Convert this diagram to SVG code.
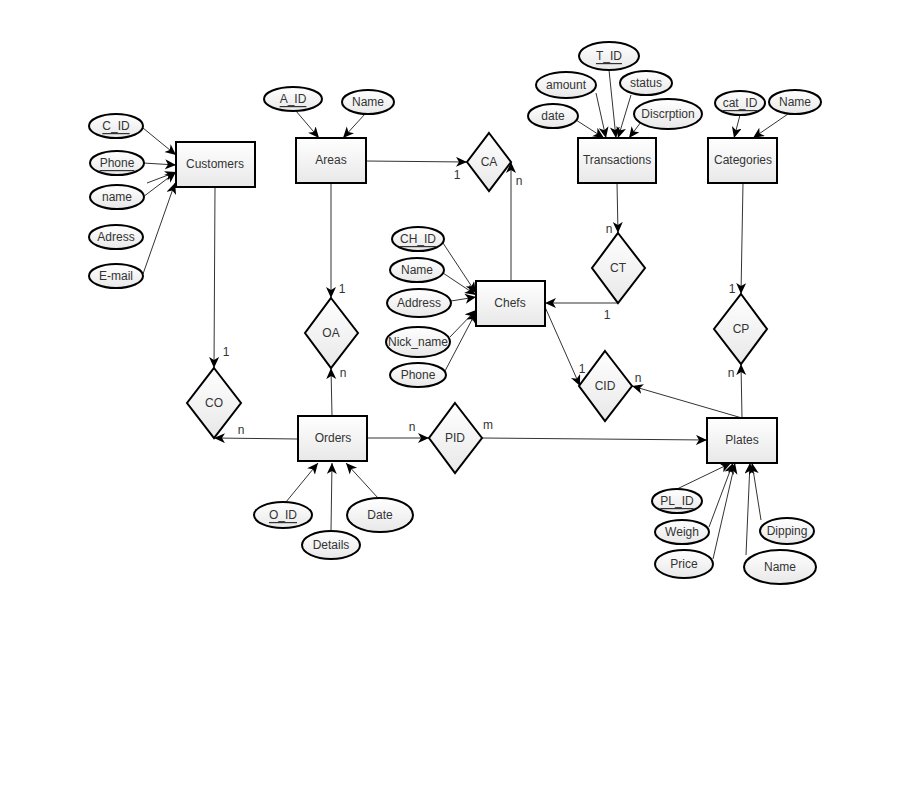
<svg xmlns="http://www.w3.org/2000/svg" width="900" height="800" viewBox="0 0 900 800">
<defs>
<linearGradient id="g" x1="0" y1="0" x2="0" y2="1">
<stop offset="0" stop-color="#ffffff"/>
<stop offset="1" stop-color="#e8e8e8"/>
</linearGradient>
<marker id="a" markerUnits="userSpaceOnUse" markerWidth="14" markerHeight="12" refX="11" refY="5" orient="auto">
<path d="M0,0 L11,5 L0,10 L3,5 Z" fill="#000"/>
</marker>
</defs>
<style>
.e{fill:url(#g);stroke:#000;stroke-width:2}
.r{fill:url(#g);stroke:#000;stroke-width:2}
.d{fill:url(#g);stroke:#000;stroke-width:2}
text{font-family:"Liberation Sans",Arial,sans-serif;font-size:12px;fill:#333;text-anchor:middle;dominant-baseline:central}
.u{text-decoration:underline}
#conn line,#conn polyline{stroke:#333;stroke-width:1;fill:none}
.ar{marker-end:url(#a)}
</style>
<rect width="900" height="800" fill="#fff"/>

<g id="conn">
<line class="ar" x1="143" y1="128" x2="176" y2="155"/>
<line class="ar" x1="143" y1="163" x2="176" y2="165"/>
<line class="ar" x1="143" y1="197" x2="176" y2="172"/>
<line class="ar" x1="147" y1="183" x2="176" y2="172"/>
<line class="ar" x1="143" y1="274" x2="175" y2="183"/>
<line class="ar" x1="215" y1="187" x2="214" y2="368"/>
<line class="ar" x1="298" y1="439" x2="214" y2="438"/>
<line class="ar" x1="331" y1="183" x2="331" y2="298"/>
<line class="ar" x1="332" y1="416" x2="331" y2="368"/>
<line class="ar" x1="296" y1="111" x2="319" y2="138"/>
<line class="ar" x1="365" y1="114" x2="343" y2="138"/>
<line class="ar" x1="366" y1="161" x2="467" y2="162"/>
<polyline class="ar" points="511,281 511,162"/>
<line class="ar" x1="576" y1="120" x2="604" y2="138"/>
<line class="ar" x1="596" y1="93" x2="606" y2="138"/>
<line class="ar" x1="609" y1="70" x2="616" y2="138"/>
<line class="ar" x1="631" y1="95" x2="618" y2="138"/>
<line class="ar" x1="641" y1="122" x2="629" y2="138"/>
<line class="ar" x1="740" y1="115" x2="734" y2="138"/>
<line class="ar" x1="788" y1="114" x2="753" y2="138"/>
<line class="ar" x1="617" y1="183" x2="618" y2="233"/>
<polyline class="ar" points="618,303 545,303"/>
<line class="ar" x1="743" y1="183" x2="741" y2="294"/>
<line class="ar" x1="742" y1="418" x2="741" y2="364"/>
<line class="ar" x1="742" y1="418" x2="632" y2="386"/>
<line class="ar" x1="545" y1="307" x2="580" y2="386"/>
<line class="ar" x1="443" y1="243" x2="476" y2="293"/>
<line class="ar" x1="443" y1="273" x2="476" y2="295"/>
<line class="ar" x1="451" y1="301" x2="476" y2="297"/>
<line class="ar" x1="450" y1="337" x2="476" y2="310"/>
<line class="ar" x1="445" y1="371" x2="476" y2="312"/>
<line class="ar" x1="367" y1="438" x2="429" y2="438"/>
<line class="ar" x1="482" y1="438" x2="707" y2="440"/>
<line class="ar" x1="286" y1="502" x2="318" y2="463"/>
<line class="ar" x1="331" y1="531" x2="332" y2="463"/>
<line class="ar" x1="378" y1="498" x2="346" y2="463"/>
<line class="ar" x1="677" y1="489" x2="731" y2="463"/>
<line class="ar" x1="709" y1="527" x2="733" y2="463"/>
<line class="ar" x1="713" y1="559" x2="735" y2="463"/>
<line class="ar" x1="746" y1="555" x2="750" y2="463"/>
<line class="ar" x1="761" y1="520" x2="752" y2="463"/>
</g>

<g id="labels">
<text x="226" y="352">1</text>
<text x="241" y="430">n</text>
<text x="342" y="289">1</text>
<text x="343" y="373">n</text>
<text x="457" y="175">1</text>
<text x="519" y="181">n</text>
<text x="609" y="229">n</text>
<text x="607" y="315">1</text>
<text x="732" y="289">1</text>
<text x="731" y="373">n</text>
<text x="582" y="369">1</text>
<text x="638" y="378">n</text>
<text x="412" y="427">n</text>
<text x="488" y="425">m</text>
</g>

<g id="Customers"><rect class="r" x="176" y="142" width="79" height="45"/><text x="215" y="164">Customers</text></g>
<g id="Areas"><rect class="r" x="296" y="138" width="70" height="45"/><text x="331" y="160">Areas</text></g>
<g id="Transactions"><rect class="r" x="578" y="138" width="78" height="45"/><text x="617" y="160">Transactions</text></g>
<g id="Categories"><rect class="r" x="708" y="138" width="69" height="45"/><text x="743" y="160">Categories</text></g>
<g id="Chefs"><rect class="r" x="476" y="281" width="69" height="45"/><text x="510" y="303">Chefs</text></g>
<g id="Orders"><rect class="r" x="298" y="416" width="69" height="45"/><text x="333" y="438">Orders</text></g>
<g id="Plates"><rect class="r" x="707" y="418" width="70" height="45"/><text x="742" y="440">Plates</text></g>

<g id="CA"><path class="d" d="M489,133 L511,162 L489,191 L467,162 Z"/><text x="489" y="162">CA</text></g>
<g id="CT"><path class="d" d="M618,233 L645,268 L618,303 L592,268 Z"/><text x="618" y="268">CT</text></g>
<g id="CP"><path class="d" d="M741,294 L767,329 L741,364 L714,329 Z"/><text x="741" y="329">CP</text></g>
<g id="CID"><path class="d" d="M605,351 L632,386 L605,421 L579,386 Z"/><text x="605" y="386">CID</text></g>
<g id="OA"><path class="d" d="M331,298 L358,333 L331,368 L305,333 Z"/><text x="331" y="333">OA</text></g>
<g id="CO"><path class="d" d="M214,368 L241,403 L214,438 L187,403 Z"/><text x="214" y="403">CO</text></g>
<g id="PID"><path class="d" d="M455,403 L482,438 L455,473 L429,438 Z"/><text x="455" y="438">PID</text></g>

<g id="C_ID"><ellipse class="e" cx="116" cy="126" rx="27" ry="12"/><text class="u" x="116" y="126">C_ID</text></g>
<g id="Phone_c"><ellipse class="e" cx="117" cy="163" rx="27" ry="12"/><text class="u" x="117" y="163">Phone</text></g>
<g id="name_c"><ellipse class="e" cx="117" cy="197" rx="27" ry="12"/><text x="117" y="197">name</text></g>
<g id="Adress"><ellipse class="e" cx="116" cy="237" rx="27" ry="12"/><text x="116" y="237">Adress</text></g>
<g id="Email"><ellipse class="e" cx="116" cy="276" rx="27" ry="12"/><text x="116" y="276">E-mail</text></g>

<g id="A_ID"><ellipse class="e" cx="293" cy="99" rx="29" ry="12"/><text class="u" x="293" y="99">A_ID</text></g>
<g id="Name_a"><ellipse class="e" cx="368" cy="102" rx="26" ry="12"/><text x="368" y="102">Name</text></g>

<g id="T_ID"><ellipse class="e" cx="609" cy="56" rx="30" ry="14"/><text class="u" x="609" y="56">T_ID</text></g>
<g id="amount"><ellipse class="e" cx="566" cy="85" rx="30" ry="13"/><text x="566" y="85">amount</text></g>
<g id="status"><ellipse class="e" cx="646" cy="83" rx="26" ry="12"/><text x="646" y="83">status</text></g>
<g id="date"><ellipse class="e" cx="553" cy="116" rx="25" ry="12"/><text x="553" y="116">date</text></g>
<g id="Discrption"><ellipse class="e" cx="668" cy="114" rx="34" ry="15"/><text x="668" y="114">Discrption</text></g>

<g id="cat_ID"><ellipse class="e" cx="740" cy="103" rx="25" ry="12"/><text class="u" x="740" y="103">cat_ID</text></g>
<g id="Name_cat"><ellipse class="e" cx="795" cy="102" rx="26" ry="12"/><text x="795" y="102">Name</text></g>

<g id="CH_ID"><ellipse class="e" cx="418" cy="239" rx="26" ry="12"/><text class="u" x="418" y="239">CH_ID</text></g>
<g id="Name_ch"><ellipse class="e" cx="417" cy="270" rx="27" ry="12"/><text x="417" y="270">Name</text></g>
<g id="Address"><ellipse class="e" cx="419" cy="303" rx="32" ry="14"/><text x="419" y="303">Address</text></g>
<g id="Nick_name"><ellipse class="e" cx="418" cy="342" rx="32" ry="15"/><text x="418" y="342">Nick_name</text></g>
<g id="Phone_ch"><ellipse class="e" cx="418" cy="375" rx="28" ry="12"/><text x="418" y="375">Phone</text></g>

<g id="O_ID"><ellipse class="e" cx="283" cy="515" rx="29" ry="13"/><text class="u" x="283" y="515">O_ID</text></g>
<g id="Details"><ellipse class="e" cx="331" cy="545" rx="29" ry="14"/><text x="331" y="545">Details</text></g>
<g id="Date_o"><ellipse class="e" cx="380" cy="515" rx="33" ry="17"/><text x="380" y="515">Date</text></g>

<g id="PL_ID"><ellipse class="e" cx="677" cy="501" rx="25" ry="12"/><text class="u" x="677" y="501">PL_ID</text></g>
<g id="Weigh"><ellipse class="e" cx="682" cy="532" rx="27" ry="12"/><text x="682" y="532">Weigh</text></g>
<g id="Price"><ellipse class="e" cx="684" cy="564" rx="29" ry="14"/><text x="684" y="564">Price</text></g>
<g id="Dipping"><ellipse class="e" cx="787" cy="531" rx="27" ry="13"/><text x="787" y="531">Dipping</text></g>
<g id="Name_p"><ellipse class="e" cx="780" cy="567" rx="36" ry="17"/><text x="780" y="567">Name</text></g>
</svg>
